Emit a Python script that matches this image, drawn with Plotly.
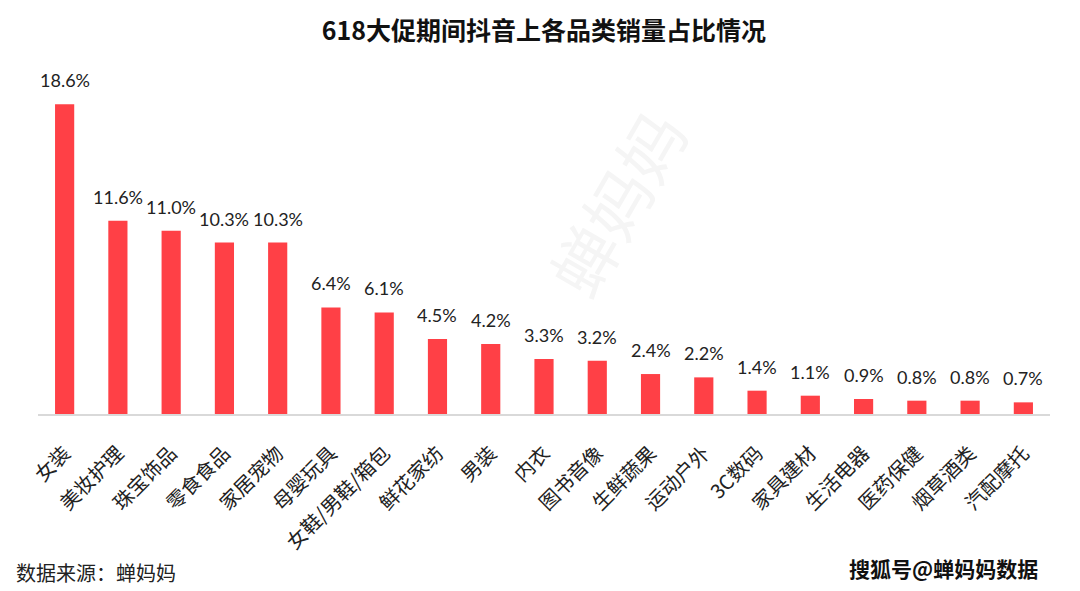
import plotly.graph_objects as go

categories = ["女装", "美妆护理", "珠宝饰品", "零食食品", "家居宠物", "母婴玩具", "女鞋/男鞋/箱包",
              "鲜花家纺", "男装", "内衣", "图书音像", "生鲜蔬果", "运动户外", "3C数码", "家具建材",
              "生活电器", "医药保健", "烟草酒类", "汽配摩托"]
values = [18.6, 11.6, 11.0, 10.3, 10.3, 6.4, 6.1, 4.5, 4.2, 3.3, 3.2, 2.4, 2.2, 1.4, 1.1, 0.9, 0.8, 0.8, 0.7]
labels = [f"{v:.1f}%" for v in values]

CJK = "Noto Sans CJK SC"
NUM = "Lato, Noto Sans CJK SC"

fig = go.Figure()
fig.add_trace(go.Bar(
    x=categories, y=values,
    marker=dict(color="#FF4046", line=dict(width=0)),
    width=0.36,
    hoverinfo="skip",
))

for c, v, t in zip(categories, values, labels):
    fig.add_annotation(x=c, y=v, text=t, showarrow=False, yanchor="bottom",
                       yshift=11, font=dict(family=NUM, size=18, color="#222222"))

# faint watermark drawn below the bars
fig.add_shape(type="rect", xref="paper", yref="paper", layer="below",
              x0=0.57, x1=0.59, y0=0.61, y1=0.63,
              line=dict(width=0), fillcolor="rgba(0,0,0,0)",
              label=dict(text="蝉妈妈", textangle=-60, textposition="middle center",
                         font=dict(family=CJK, size=66, color="#f5f5f5")))

fig.add_annotation(xref="paper", yref="paper", x=-0.0237, y=-0.4745, xanchor="left", yanchor="middle",
                   text="数据来源：蝉妈妈", showarrow=False,
                   font=dict(family=CJK, size=20, color="#222222"))
fig.add_annotation(xref="paper", yref="paper", x=0.990, y=-0.4625, xanchor="right", yanchor="middle",
                   text="<b>搜狐号@蝉妈妈数据</b>", showarrow=False,
                   font=dict(family=CJK, size=21, color="#111111"))

fig.update_layout(
    width=1072, height=583,
    margin=dict(l=30, r=30, t=73, b=177),
    paper_bgcolor="white", plot_bgcolor="white",
    title=dict(text="<b>618大促期间抖音上各品类销量占比情况</b>", x=0.5, xanchor="center",
               y=1 - 23 / 583, yref="container", yanchor="middle",
               font=dict(family=CJK, size=25, color="#111111")),
    showlegend=False,
    xaxis=dict(range=[-0.5, 18.5], tickangle=-45, showline=True, linecolor="#d9d9d9", linewidth=1.5,
               ticks="", ticklabelstandoff=18, showgrid=False,
               tickfont=dict(family=CJK, size=20, color="#222222"),
               fixedrange=True),
    yaxis=dict(range=[0, 20], visible=False, showgrid=False, zeroline=False, fixedrange=True),
)

fig.write_html("out.html")
